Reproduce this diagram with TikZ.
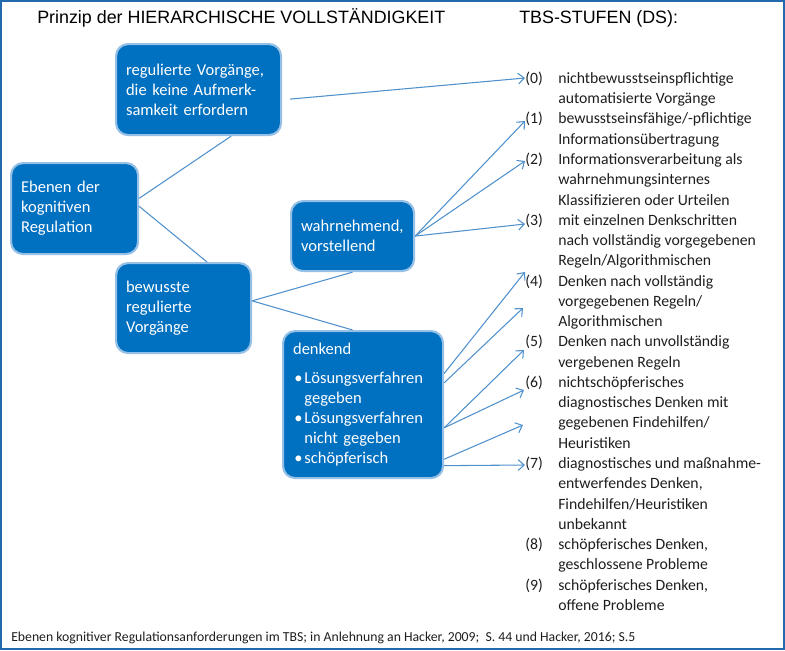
\documentclass[tikz,border=0pt]{standalone}
\usepackage{fontspec}
\setmainfont{Carlito}
\newfontfamily\arialfont{Liberation Sans}
\usetikzlibrary{arrows.meta}
\definecolor{boxblue}{RGB}{0,112,192}
\definecolor{boxrim}{RGB}{150,192,230}
\definecolor{linkblue}{RGB}{80,145,205}
\definecolor{frameblue}{RGB}{35,105,175}
\definecolor{listgrey}{RGB}{30,30,30}
\newcommand{\bul}{\hspace*{1pt}\makebox[7.5pt][l]{\textbullet}}

\begin{document}
\begin{tikzpicture}[x=0.75pt,y=0.75pt,yscale=-1,xscale=1,
  blk/.style={draw=boxrim, line width=1.6pt, fill=boxblue, rounded corners=9pt, text=white,
    font=\fontsize{12.4}{15}\selectfont, align=left, anchor=north west, inner xsep=7.5pt, inner ysep=0pt},
  stufen/.style={anchor=north west, inner sep=0pt, text=listgrey, font=\fontsize{11.8}{15.2}\selectfont},
  link/.style={draw=linkblue, line width=0.8pt},
  arr/.style={link, -{Straight Barb[length=4.5pt,width=8pt]}}]
        \useasboundingbox (0,0) rectangle (785,650);
        \draw [frameblue, line width=1.2pt] (0.8,0.8) rectangle (784.2,649.2);
        % titles
        \node [anchor=base west, inner sep=0pt, font=\arialfont\fontsize{13.4}{16}\selectfont] (titel) at (37,23) {Prinzip der HIERARCHISCHE VOLLSTÄNDIGKEIT};
        \node [anchor=base west, inner sep=0pt, font=\arialfont\fontsize{13.4}{16}\selectfont] (stufentitel) at (519,23) {TBS-STUFEN (DS):};
        % boxes
        \node [blk, text width=108.75pt, minimum height=68.25pt] (auto) at (115,43) {regulierte Vorgänge,\\die keine Aufmerk-\\samkeit erfordern};
        \node [blk, text width=80.25pt, minimum height=68.25pt] (ebenen) at (10,162) {Ebenen der\\kognitiven\\Regulation};
        \node [blk, text width=77.25pt, minimum height=52.5pt] (wahr) at (290,200) {wahrnehmend,\\vorstellend};
        \node [blk, text width=86.25pt, minimum height=67.5pt] (bew) at (115,262) {bewusste\\regulierte\\Vorgänge};
        \node [blk, text width=105pt, minimum height=110.25pt] (denk) at (282,330) {denkend\\[7pt]\bul Lösungsverfahren\\\hspace*{8.5pt}gegeben\\\bul Lösungsverfahren\\\hspace*{8.5pt}nicht gegeben\\\bul schöpferisch};
        % list of levels
        \node [stufen] (liste) at (525,69) {%
          \begin{tabular}{@{}p{24.75pt}@{}l@{}}
          (0) & nichtbewusstseinspflichtige\\
              & automatisierte Vorgänge\\
          (1) & bewusstseinsfähige/-pflichtige\\
              & Informationsübertragung\\
          (2) & Informationsverarbeitung als\\
              & wahrnehmungsinternes\\
              & Klassifizieren oder Urteilen\\
          (3) & mit einzelnen Denkschritten\\
              & nach vollständig vorgegebenen\\
              & Regeln/Algorithmischen\\
          (4) & Denken nach vollständig\\
              & vorgegebenen Regeln/\\
              & Algorithmischen\\
          (5) & Denken nach unvollständig\\
              & vergebenen Regeln\\
          (6) & nichtschöpferisches\\
              & diagnostisches Denken mit\\
              & gegebenen Findehilfen/\\
              & Heuristiken\\
          (7) & diagnostisches und maßnahme-\\
              & entwerfendes Denken,\\
              & Findehilfen/Heuristiken\\
              & unbekannt\\
          (8) & schöpferisches Denken,\\
              & geschlossene Probleme\\
          (9) & schöpferisches Denken,\\
              & offene Probleme
          \end{tabular}};
        % arrow ends
        \coordinate (t0) at (525,78);
        \coordinate (t1) at (525,121);
        \coordinate (t2) at (525,161);
        \coordinate (t3) at (525,224);
        \coordinate (t4) at (525,272);
        \coordinate (t4b) at (523,308);
        \coordinate (t5) at (524,350);
        \coordinate (t6) at (524,390);
        \coordinate (t6b) at (523,425);
        \coordinate (t7) at (525,465);
        % tree lines
        \draw [link] (ebenen.9) -- (auto.-55);
        \draw [link] (ebenen.2) -- (bew.63);
        \draw [link] (bew.6) -- (wahr.south);
        \draw [link] (bew.6) -- (denk.98);
        % arrows to the levels
        \draw [arr, shorten <=6pt] (auto.-7) -- (t0);
        \draw [arr] (wahr.east) -- (t1);
        \draw [arr] (wahr.east) -- (t2);
        \draw [arr] (wahr.east) -- (t3);
        \draw [arr] (denk.21) -- (t4);
        \draw [arr] (denk.15) -- (t4b);
        \draw [arr] (denk.-16) -- (t5);
        \draw [arr] (denk.-16) -- (t6);
        \draw [arr] (denk.-34) -- (t6b);
        \draw [arr] (denk.-37) -- (t7);
        % source
        \node [anchor=base west, inner sep=0pt, text=listgrey, font=\fontsize{10.3}{12}\selectfont] (quelle) at (11,641) {Ebenen kognitiver Regulationsanforderungen im TBS; in Anlehnung an Hacker, 2009;\ \ S. 44 und Hacker, 2016; S.5};
\end{tikzpicture}
\end{document}
